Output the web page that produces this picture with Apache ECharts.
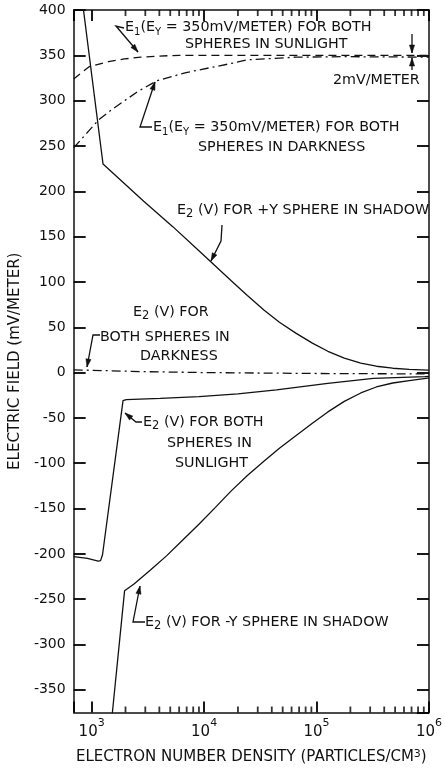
<!DOCTYPE html>
<html><head><meta charset="utf-8">
<script src="https://cdn.jsdelivr.net/npm/echarts@6/dist/echarts.min.js"></script>
<style>html,body{margin:0;padding:0;background:#fff}#c{width:445px;height:770px}</style>
</head><body><div id="c"></div>
<script>
// ---- axis ticks (x in log10 of density) ----
const xDecades = [3, 4, 5, 6];
const xMinorMultipliers = [2, 3, 4, 5, 6, 7, 8, 9];
const yTicks = [-350, -300, -250, -200, -150, -100, -50, 0, 50, 100, 150, 200, 250, 300, 350, 400];

// ---- series (density in particles/cm^3, field in mV/m) ----
const e1SunDensity = [692, 950, 1412, 1950, 2735, 3680, 6000, 10000, 100000, 1000000];
const e1SunField   = [324, 337.5, 343, 346, 348, 349, 350, 350, 350, 350];

const e1DarkDensity = [692, 1158, 1507, 2564, 3810, 6918, 17340, 24270, 65460, 176600, 1000000];
const e1DarkField   = [248, 279, 290, 310, 322, 331, 341, 345, 348, 348.5, 348];

const e2PlusYDensity = [807, 1262, 2904, 5267, 8995, 17340, 24270, 34030, 46770, 65460, 91830, 126200, 176600, 247500, 340400, 476400, 668200, 975000, 1000000];
const e2PlusYField   = [420, 230, 189, 161, 134.5, 101.5, 85, 69, 55.5, 43.5, 32.5, 23.5, 16, 10.5, 7, 4.8, 3.5, 2.7, 2.6];

const e2DarkDensity = [692, 1000, 3000, 10000, 100000, 1000000];
const e2DarkField   = [3, 2.5, 1, 0, -1, -1.5];

const e2SunDensity = [692, 918, 1142, 1200, 1249, 1901, 2031, 4074, 8995, 19950, 44060, 125900, 320600, 918000, 1000000];
const e2SunField   = [-203, -205, -208, -207.5, -201, -31, -29.8, -28.5, -26.6, -23.5, -19, -12, -6.5, -4.5, -4.3];

const e2MinusYDensity = [1422, 1963, 2381, 3334, 4630, 6427, 8995, 12610, 17340, 24270, 34030, 46770, 65460, 91830, 126200, 176600, 247500, 340400, 476400, 668200, 975000, 1000000];
const e2MinusYField   = [-414, -240.6, -233.3, -217.9, -202.2, -185, -167.4, -148.7, -130.8, -113.6, -97.9, -83.4, -69.7, -56, -43.4, -31.8, -22.5, -15.9, -11.5, -8.8, -6.0, -5.8];

const X_MIN = 2.84, X_MAX = 6, Y_MIN = -375, Y_MAX = 400;
const FONT = 'DejaVu Sans';
const INK = '#111';
const GRID = { left: 71, right: 9, top: 10, bottom: 53 };
const PLOT_H = 770 - GRID.top - GRID.bottom;

function pairs(dens, vals) { return dens.map((d, i) => [Math.log10(d), vals[i]]); }

const xMinor = [];
xDecades.slice(0, -1).forEach(d => xMinorMultipliers.forEach(m => xMinor.push(d + Math.log10(m))));

const axisLineStyle = { color: INK, width: 1.5 };
const tickStyle = { color: '#000', width: 1.8 };
const xAxes = [
  {
    type: 'value', min: X_MIN, max: X_MAX, splitNumber: 3,
    axisLine: { show: true, onZero: false, lineStyle: axisLineStyle },
    axisTick: { show: true, inside: true, length: 11, lineStyle: tickStyle },
    axisLabel: {
      customValues: xDecades, margin: 5,
      formatter: v => '{b|10}{s|' + v + '}',
      rich: { b: { fontSize: 15, fontFamily: FONT, color: INK, lineHeight: 22, verticalAlign: 'bottom' },
              s: { fontSize: 11, fontFamily: FONT, color: INK, lineHeight: 22, verticalAlign: 'top' } }
    },
    splitLine: { show: false },
    name: 'ELECTRON NUMBER DENSITY (PARTICLES/CM{s|3})', nameLocation: 'middle', nameGap: 36,
    nameTextStyle: { fontSize: 15, fontFamily: FONT, color: INK,
      rich: { s: { fontSize: 11, fontFamily: FONT, color: INK, verticalAlign: 'top', lineHeight: 18 } } }
  },
  {
    type: 'value', min: X_MIN, max: X_MAX, splitNumber: 3, position: 'top',
    axisLine: { show: true, onZero: false, lineStyle: axisLineStyle },
    axisTick: { show: true, inside: true, length: 11, lineStyle: tickStyle },
    axisLabel: { show: false }, splitLine: { show: false }
  }
];
const yAxes = [
  {
    type: 'value', min: Y_MIN, max: Y_MAX, splitNumber: 16,
    axisLine: { show: true, onZero: false, lineStyle: axisLineStyle },
    axisTick: { show: true, inside: true, length: 12, lineStyle: tickStyle },
    axisLabel: { fontSize: 14, fontFamily: FONT, color: INK, margin: 8, showMinLabel: false },
    splitLine: { show: false },
    name: 'ELECTRIC FIELD (mV/METER)', nameLocation: 'middle', nameGap: 50,
    nameTextStyle: { fontSize: 15, fontFamily: FONT, color: INK }
  },
  {
    type: 'value', min: Y_MIN, max: Y_MAX, splitNumber: 16, position: 'right',
    axisLine: { show: true, onZero: false, lineStyle: axisLineStyle },
    axisTick: { show: true, inside: true, length: 12, lineStyle: tickStyle },
    axisLabel: { show: false }, splitLine: { show: false }
  }
];

function ser(name, dens, vals, type) {
  return { name, type: 'line', xAxisIndex: 0, yAxisIndex: 0, data: pairs(dens, vals), symbol: 'none',
    clip: true, lineStyle: { color: INK, width: 1.3, type: type } };
}
// minor (2..9) log ticks, 6 px long, inward from the bottom and top axes
const MINOR_LEN = 6;
const halfMinor = (MINOR_LEN / 2) * (Y_MAX - Y_MIN) / PLOT_H;
const minorTickSeries = {
  type: 'scatter', xAxisIndex: 0, yAxisIndex: 0, z: 5,
  symbol: 'rect', symbolSize: [1.8, MINOR_LEN], itemStyle: { color: '#000' },
  data: xMinor.map(v => [v, Y_MIN + halfMinor]).concat(xMinor.map(v => [v, Y_MAX - halfMinor]))
};

// ---- annotations ----
const richT = {
  t: { fontSize: 14.3, fontFamily: FONT, color: INK, lineHeight: 21, verticalAlign: 'middle' },
  s: { fontSize: 10, fontFamily: FONT, color: INK, lineHeight: 21, verticalAlign: 'bottom' },
  u: { fontSize: 11.5, fontFamily: FONT, color: INK, lineHeight: 21, verticalAlign: 'bottom' }
};
function txt(x, y, text) {
  return { type: 'text', x, y, style: { text, rich: richT, fill: INK, fontSize: 14.3, fontFamily: FONT, verticalAlign: 'middle' } };
}
function arrow(pts) {
  const n = pts.length;
  const [x1, y1] = pts[n - 2], [x2, y2] = pts[n - 1];
  const a = Math.atan2(y2 - y1, x2 - x1);
  const L = 8, W = 2.6;
  const bx = x2 - L * Math.cos(a), by = y2 - L * Math.sin(a);
  const head = [[x2, y2], [bx + W * Math.sin(a), by - W * Math.cos(a)], [bx - W * Math.sin(a), by + W * Math.cos(a)]];
  return [
    { type: 'polyline', shape: { points: pts }, style: { stroke: INK, lineWidth: 1.3, fill: 'none' } },
    { type: 'polygon', shape: { points: head }, style: { fill: INK, stroke: INK, lineWidth: 0.5 } }
  ];
}
const E1 = '{t|E}{s|1}{t|(E}{s|Y}{t| = 350mV/METER) FOR BOTH}';
const graphics = [
  txt(125, 27, E1), txt(185, 44, '{t|SPHERES IN SUNLIGHT}'),
  ...arrow([[124, 28], [116, 26], [138, 52]]),
  txt(333, 80, '{t|2mV/METER}'),
  ...arrow([[412, 34], [412, 53]]),
  ...arrow([[412, 70], [412, 58]]),
  txt(153, 127, E1), txt(198, 147, '{t|SPHERES IN DARKNESS}'),
  ...arrow([[152, 127], [140, 127], [155, 82]]),
  txt(177, 210, '{t|E}{u|2}{t| (V) FOR +Y SPHERE IN SHADOW}'),
  ...arrow([[222, 225], [221, 241], [211, 261]]),
  txt(133, 312, '{t|E}{u|2}{t| (V) FOR}'), txt(100, 337, '{t|BOTH SPHERES IN}'), txt(140, 356, '{t|DARKNESS}'),
  ...arrow([[100, 335], [93, 335], [87, 367]]),
  txt(143, 422, '{t|E}{u|2}{t| (V) FOR BOTH}'), txt(167, 443, '{t|SPHERES IN}'), txt(175, 463, '{t|SUNLIGHT}'),
  ...arrow([[142, 422], [136, 422], [125, 413]]),
  txt(145, 622, '{t|E}{u|2}{t| (V) FOR -Y SPHERE IN SHADOW}'),
  ...arrow([[145, 622], [133, 622], [140, 586]])
];

const chart = echarts.init(document.getElementById('c'));
chart.setOption({
  animation: false,
  grid: GRID,
  xAxis: xAxes,
  yAxis: yAxes,
  series: [
    ser('E1 sunlight', e1SunDensity, e1SunField, [8, 5]),
    ser('E1 darkness', e1DarkDensity, e1DarkField, [9, 4, 2, 4]),
    ser('E2 +Y shadow', e2PlusYDensity, e2PlusYField, 'solid'),
    ser('E2 darkness', e2DarkDensity, e2DarkField, [9, 4, 2, 4]),
    ser('E2 sunlight', e2SunDensity, e2SunField, 'solid'),
    ser('E2 -Y shadow', e2MinusYDensity, e2MinusYField, 'solid'),
    minorTickSeries
  ],
  graphic: graphics
});
</script></body></html>
